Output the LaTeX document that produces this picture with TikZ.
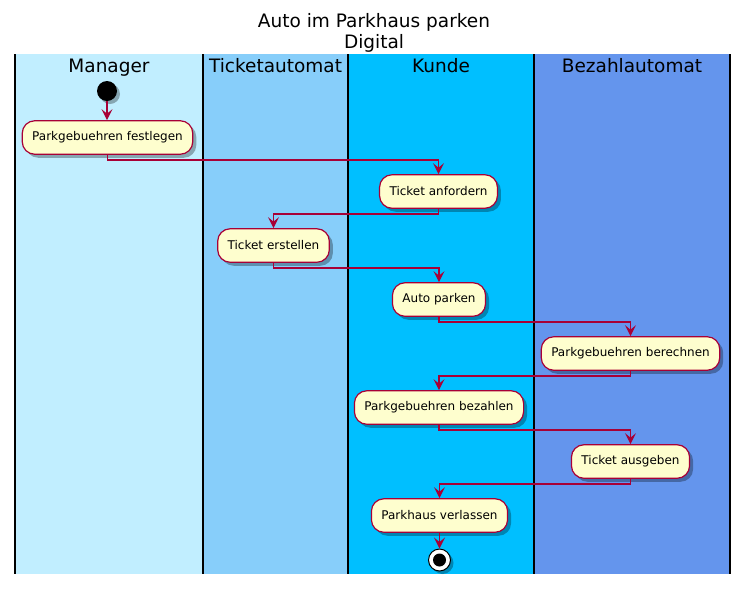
\documentclass[tikz,border=0pt]{standalone}
\usepackage{fontspec}
\setmainfont{DejaVu Sans}
\usetikzlibrary{arrows.meta,shadows}
\definecolor{laneA}{HTML}{C1EEFF}
\definecolor{laneB}{HTML}{87CEFA}
\definecolor{laneC}{HTML}{00BFFF}
\definecolor{laneD}{HTML}{6495ED}
\definecolor{actfill}{HTML}{FEFECE}
\definecolor{actline}{HTML}{A80036}
\tikzset{
  laneline/.style={black,line width=1.6pt},
  lanehead/.style={font=\fontsize{18.5}{22}\selectfont,inner sep=0pt,anchor=base},
  titletext/.style={font=\fontsize{18.5}{22}\selectfont,inner sep=0pt,anchor=base},
  action/.style={draw=actline,fill=actfill,line width=1.2pt,rounded corners=12.5pt,
    minimum height=33.5pt,inner xsep=10pt,inner ysep=0pt,
    font=\fontsize{12}{14}\selectfont,
    drop shadow={shadow xshift=3.5pt,shadow yshift=-3.5pt,opacity=0.3,fill=black}},
  startnode/.style={circle,fill=black,minimum size=20pt,inner sep=0pt,
    drop shadow={shadow xshift=3pt,shadow yshift=-3pt,opacity=0.3,fill=black}},
  endnode/.style={circle,draw=black,fill=white,line width=1pt,minimum size=22pt,inner sep=0pt,
    drop shadow={shadow xshift=3pt,shadow yshift=-3pt,opacity=0.3,fill=black}},
  flow/.style={draw=actline,line width=1.3pt,-{Stealth[length=11pt,width=11pt,inset=4.5pt]}}
}
\begin{document}
\begin{tikzpicture}[x=1pt,y=-1pt]
\useasboundingbox[fill=white] (0,0) rectangle (749,590);
% lanes
\fill[laneA] (15,54) rectangle (203,574);
\fill[laneB] (203,54) rectangle (348,574);
\fill[laneC] (348,54) rectangle (534,574);
\fill[laneD] (534,54) rectangle (730,574);
\foreach \x in {15,203,348,534,730} \draw[laneline] (\x,54) -- (\x,574);
% title
\node[titletext] (t1) at (374,27) {Auto im Parkhaus parken};
\node[titletext] (t2) at (374,48.5) {Digital};
% headers
\node[lanehead] (h1) at (109,72) {Manager};
\node[lanehead] (h2) at (275.5,72) {Ticketautomat};
\node[lanehead] (h3) at (441,72) {Kunde};
\node[lanehead] (h4) at (632,72) {Bezahlautomat};
% nodes
\node[startnode] (start) at (107,91) {};
\node[action] (n1) at (107.5,137.5) {Parkgebuehren festlegen};
\node[action] (n2) at (438.5,191.5) {Ticket anfordern};
\node[action] (n3) at (273.5,245.5) {Ticket erstellen};
\node[action] (n4) at (439,299.5) {Auto parken};
\node[action] (n5) at (630.5,353.5) {Parkgebuehren berechnen};
\node[action] (n6) at (439,407.5) {Parkgebuehren bezahlen};
\node[action] (n7) at (630.5,461.5) {Ticket ausgeben};
\node[action] (n8) at (439.5,515.5) {Parkhaus verlassen};
\node[endnode] (end) at (439.5,560) {};
\fill[black] (end.center) circle (6.5pt);
% connectors
\draw[flow] (start) -- (start |- n1.north);
\draw[flow] (n1.south) -- ++(0,5) -| (n2.north);
\draw[flow] (n2.south) -- ++(0,5) -| (n3.north);
\draw[flow] (n3.south) -- ++(0,5) -| (n4.north);
\draw[flow] (n4.south) -- ++(0,5) -| (n5.north);
\draw[flow] (n5.south) -- ++(0,5) -| (n6.north);
\draw[flow] (n6.south) -- ++(0,5) -| (n7.north);
\draw[flow] (n7.south) -- ++(0,5) -| (n8.north);
\draw[flow] (n8.south) -- (end.north);
\end{tikzpicture}
\end{document}
